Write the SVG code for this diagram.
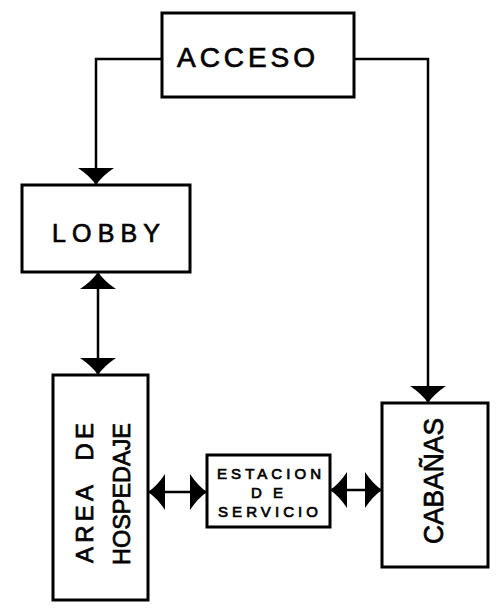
<svg xmlns="http://www.w3.org/2000/svg" width="503" height="615" viewBox="0 0 503 615">
<style>
.box{fill:#fff;stroke:#000;stroke-width:3}
.edge{fill:none;stroke:#000;stroke-width:2.5}
.lbl{font-family:"Liberation Sans","DejaVu Sans",sans-serif;fill:#000;stroke:#000;stroke-width:0.7;text-anchor:middle;dominant-baseline:central}
</style>
<defs>
<marker id="tri" viewBox="0 0 17 36" refX="17" refY="18" markerWidth="17" markerHeight="36" markerUnits="userSpaceOnUse" orient="auto-start-reverse">
<path d="M0,0 Q8,12 17,18 Q8,24 0,36 Z" fill="#000"/>
</marker>
</defs>
<rect width="503" height="615" fill="#fff"/>
<g id="connectors">
<path class="edge" d="M162,59 H96 V185" marker-end="url(#tri)"/>
<path class="edge" d="M354,59 H428 V403" marker-end="url(#tri)"/>
<path class="edge" d="M98,272 V375" marker-start="url(#tri)" marker-end="url(#tri)"/>
<path class="edge" d="M148,492 H207" marker-start="url(#tri)" marker-end="url(#tri)"/>
<path class="edge" d="M330,490 H382" marker-start="url(#tri)" marker-end="url(#tri)"/>
</g>
<g id="acceso">
<rect class="box" x="162" y="13" width="192" height="84"/>
<text class="lbl" x="246" y="57" font-size="28" textLength="138" lengthAdjust="spacing">ACCESO</text>
</g>
<g id="lobby">
<rect class="box" x="22" y="185" width="168" height="87"/>
<text class="lbl" x="106" y="233" font-size="25" textLength="108" lengthAdjust="spacing">LOBBY</text>
</g>
<g id="area">
<rect class="box" x="53" y="375" width="95" height="225"/>
<text class="lbl" transform="translate(84,493) rotate(-90)" font-size="24" textLength="140" lengthAdjust="spacing" xml:space="preserve">AREA  DE</text>
<text class="lbl" transform="translate(121,494) rotate(-90)" font-size="24" textLength="142" lengthAdjust="spacingAndGlyphs">HOSPEDAJE</text>
</g>
<g id="estacion">
<rect class="box" x="207" y="455" width="123" height="72"/>
<text class="lbl" x="269" y="473" font-size="15" textLength="104" lengthAdjust="spacing">ESTACION</text>
<text class="lbl" x="267" y="492" font-size="15" textLength="32" lengthAdjust="spacing">DE</text>
<text class="lbl" x="268" y="511" font-size="15" textLength="100" lengthAdjust="spacing">SERVICIO</text>
</g>
<g id="cabanas">
<rect class="box" x="382" y="403" width="106" height="164"/>
<text class="lbl" transform="translate(433,481) rotate(-90)" font-size="28" textLength="126" lengthAdjust="spacingAndGlyphs">CABAÑAS</text>
</g>
</svg>
